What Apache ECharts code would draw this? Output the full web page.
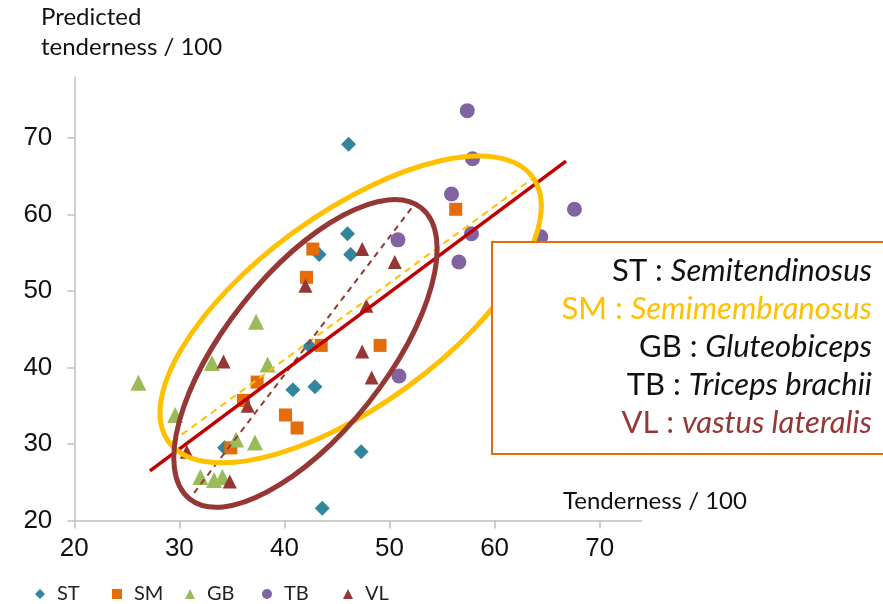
<!DOCTYPE html>
<html><head><meta charset="utf-8">
<script src="https://cdn.jsdelivr.net/npm/echarts@6/dist/echarts.min.js"></script>
<style>html,body{margin:0;padding:0;background:#fff}#c{width:883px;height:604px}</style>
</head><body><div id="c"></div><script>
// ---- data ----
const xTicks = [20, 30, 40, 50, 60, 70];
const yTicks = [20, 30, 40, 50, 60, 70];
const categories = ['ST', 'SM', 'GB', 'TB', 'VL'];
const ST = [[46.1,69.2],[46.0,57.5],[46.3,54.8],[43.3,54.8],[42.4,42.8],[40.8,37.1],[42.9,37.5],[47.3,29.0],[43.6,21.6],[34.3,29.5]];
const SM = [[42.7,55.5],[42.1,51.8],[56.3,60.7],[43.5,42.9],[49.1,42.9],[37.4,38.1],[36.1,35.7],[40.1,33.8],[41.2,32.1],[34.9,29.5]];
const GB = [[37.3,46.0],[33.1,40.6],[38.4,40.4],[26.1,38.0],[29.6,33.8],[35.4,30.6],[37.2,30.2],[32.0,25.7],[33.3,25.3],[34.1,25.7]];
const TB = [[57.4,73.6],[57.9,67.3],[55.9,62.7],[50.8,56.7],[57.8,57.5],[64.4,57.1],[67.6,60.7],[56.6,53.8],[61.1,50.9],[50.9,38.9]];
const VL = [[47.4,55.5],[50.5,53.8],[42.0,50.7],[47.8,48.1],[34.2,40.8],[36.5,35.0],[47.4,42.1],[48.3,38.7],[30.7,29.0],[34.8,25.1]];
const fitAll = [[27.2,26.5],[66.8,67.0]];
const fitSM = [[29.3,30.3],[63.5,64.6]];
const fitVL = [[31.4,23.6],[52.4,61.4]];
const ellipseCenterSM = [46.3, 47.6];
const ellipseCenterVL = [42.0, 41.85];
const boxLines = [
  ['ST : ', 'Semitendinosus'],
  ['SM : ', 'Semimembranosus'],
  ['GB : ', 'Gluteobiceps'],
  ['TB : ', 'Triceps brachii'],
  ['VL : ', 'vastus lateralis']
];
const xName = 'Tenderness / 100';
const yName = ['Predicted', 'tenderness / 100'];

// ---- styles ----
const colors = {ST:'#31859C', SM:'#E46C0A', GB:'#9BBB59', TB:'#8064A2', VL:'#953735'};
const symbols = {ST:'diamond', SM:'rect', GB:'triangle', TB:'circle', VL:'triangle'};
const sizes = {ST:15, SM:13, GB:16, TB:15, VL:14};
const legendLeft = [30, 107, 180, 257, 338];
const boxColors = ['#111', '#FFC000', '#111', '#111', '#953735'];
const seriesData = {ST, SM, GB, TB, VL};
const txtFont = 'Lato, "Open Sans", sans-serif';
const axisGray = '#BFBFBF';

const chart = echarts.init(document.getElementById('c'), null, {renderer:'canvas'});

const scatterSeries = categories.map(n => ({
  name: n, type: 'scatter', data: seriesData[n], symbol: symbols[n], symbolSize: sizes[n],
  itemStyle: {color: colors[n], opacity: 1}, z: 2
}));
const lineSeries = [
  {data: fitSM, color: '#FFC000', width: 2, type: [7,5]},
  {data: fitVL, color: '#953735', width: 2, type: [6,5]},
  {data: fitAll, color: '#C00000', width: 3.5, type: 'solid'}
].map(l => ({
  type: 'line', data: l.data, symbol: 'none', silent: true, z: 4,
  lineStyle: {color: l.color, width: l.width, type: l.type}
}));

const legends = categories.map((n, i) => ({
  data: [n], left: legendLeft[i], top: 579, itemWidth: 10, itemHeight: 10,
  textStyle: {fontFamily: txtFont, fontSize: 20, color: '#222', padding: [0, 0, 0, 7]}
}));

chart.setOption({
  animation: false,
  backgroundColor: '#fff',
  grid: {left: 74.3, right: 883 - 641.7, top: 77, bottom: 604 - 520.5},
  xAxis: {
    type: 'value', min: 20, max: 74, interval: 10,
    axisLine: {lineStyle: {color: axisGray, width: 1.5}},
    axisTick: {show: true, length: 8, lineStyle: {color: axisGray, width: 1.5}, customValues: xTicks},
    axisLabel: {customValues: xTicks, fontFamily: '"Liberation Sans", Arial, sans-serif', fontSize: 26, color: '#111', margin: 15},
    splitLine: {show: false}
  },
  yAxis: {
    type: 'value', min: 20, max: 78, interval: 10,
    axisLine: {show: true, lineStyle: {color: axisGray, width: 1.5}},
    axisTick: {show: true, length: 7, lineStyle: {color: axisGray, width: 1.5}, customValues: yTicks},
    axisLabel: {customValues: yTicks, fontFamily: '"Liberation Sans", Arial, sans-serif', fontSize: 26, color: '#111', margin: 22},
    splitLine: {show: false}
  },
  legend: legends,
  series: scatterSeries.concat(lineSeries)
});

function buildGraphics() {
  const g = [];
  const cSM = chart.convertToPixel({gridIndex: 0}, ellipseCenterSM);
  const cVL = chart.convertToPixel({gridIndex: 0}, ellipseCenterVL);
  g.push({type: 'ellipse', x: cSM[0], y: cSM[1], rotation: 36 * Math.PI / 180, silent: true, z: 10,
    shape: {cx: 0, cy: 0, rx: 225, ry: 96}, style: {fill: 'none', stroke: '#FFC000', lineWidth: 5}});
  g.push({type: 'ellipse', x: cVL[0], y: cVL[1], rotation: 51.5 * Math.PI / 180, silent: true, z: 11,
    shape: {cx: 0, cy: 0, rx: 186, ry: 80}, style: {fill: 'none', stroke: '#953735', lineWidth: 5}});
  // legend box
  g.push({type: 'rect', shape: {x: 492, y: 242, width: 420, height: 212}, silent: true, z: 12,
    style: {fill: '#fff', stroke: '#E46C0A', lineWidth: 2}});
  const baseY = 271, stepY = 38;
  boxLines.forEach((ln, i) => {
    g.push({type: 'text', x: 872, y: baseY + i * stepY, silent: true, z: 13,
      style: {
        text: '{n|' + ln[0] + '}{i|' + ln[1] + '}', align: 'right', verticalAlign: 'middle',
        fill: boxColors[i],
        rich: {
          n: {fontFamily: txtFont, fontSize: 31, fill: boxColors[i]},
          i: {fontFamily: txtFont, fontSize: 31, fontStyle: 'italic', fill: boxColors[i]}
        }
      }});
  });
  // axis titles
  g.push({type: 'text', x: 41, y: 17, silent: true, z: 13,
    style: {text: yName[0], fontFamily: txtFont, fontSize: 24, fill: '#111', align: 'left', verticalAlign: 'middle'}});
  g.push({type: 'text', x: 41, y: 47, silent: true, z: 13,
    style: {text: yName[1], fontFamily: txtFont, fontSize: 24, fill: '#111', align: 'left', verticalAlign: 'middle'}});
  g.push({type: 'text', x: 563, y: 501, silent: true, z: 13,
    style: {text: xName, fontFamily: txtFont, fontSize: 24, fill: '#111', align: 'left', verticalAlign: 'middle'}});
  return g;
}
chart.setOption({graphic: buildGraphics()});
</script></body></html>
